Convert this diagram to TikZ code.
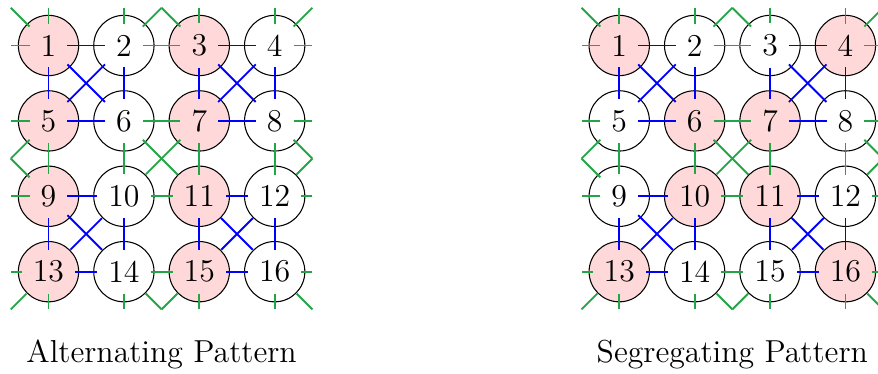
\documentclass[tikz,border=0pt]{standalone}
\usepackage{fontspec}
\setmainfont{Latin Modern Roman}
\definecolor{lnkgreen}{RGB}{34,165,70}
\definecolor{lnkblue}{RGB}{0,0,255}
\definecolor{sitepink}{RGB}{255,217,217}
\tikzset{
  site/.style={circle, draw=black, line width=0.4pt, minimum size=0.8cm, inner sep=0pt},
  lbl/.style={rectangle, inner sep=4pt, font=\fontsize{12}{14}\selectfont},
  intra/.style={draw=lnkblue, line width=0.7pt},
  inter/.style={draw=lnkgreen, line width=0.7pt},
  captxt/.style={anchor=base, font=\fontsize{12}{14}\selectfont}
}
\newcommand\drawlattice[4]{%
  \begin{scope}[xshift=#2cm]
    \foreach \k/\f in {#3}{
      \pgfmathtruncatemacro\rr{(\k-1)/4}
      \pgfmathtruncatemacro\cc{\k-1-4*\rr}
      \node[site, fill=\f] (#1c\rr\cc) at (\cc,-\rr) {};
      \node[lbl] (#1\rr\cc) at (\cc,-\rr) {\k};
    }
    \foreach \i in {0,...,3}{
      \coordinate (#1E\i) at (3.5,-\i);
      \coordinate (#1W\i) at (-0.5,-\i);
      \coordinate (#1N\i) at (\i,0.5);
      \coordinate (#1S\i) at (\i,-3.5);
    }
    \coordinate (#1X1) at (3.5,-1.5);
    \coordinate (#1X2) at (-0.5,-1.5);
    \coordinate (#1X3) at (1.5,0.5);
    \coordinate (#1X4) at (1.5,-3.5);
    \coordinate (#1Q1) at (-0.5,0.5);
    \coordinate (#1Q2) at (3.5,0.5);
    \coordinate (#1Q3) at (-0.5,-3.5);
    \coordinate (#1Q4) at (3.5,-3.5);
    % horizontal and vertical links
    \foreach \i in {0,...,3}{
      \draw[intra] (#1\i0) -- (#1\i1);
      \draw[inter] (#1\i1) -- (#1\i2);
      \draw[intra] (#1\i2) -- (#1\i3);
      \draw[inter] (#1\i3) -- (#1E\i);
      \draw[inter] (#1\i0) -- (#1W\i);
      \draw[intra] (#10\i) -- (#11\i);
      \draw[inter] (#11\i) -- (#12\i);
      \draw[intra] (#12\i) -- (#13\i);
      \draw[inter] (#10\i) -- (#1N\i);
      \draw[inter] (#13\i) -- (#1S\i);
    }
    % diagonals inside blue plaquettes
    \foreach \a/\b/\p/\q in {0/0/1/1, 0/2/1/3, 2/0/3/1, 2/2/3/3}{
      \draw[intra] (#1\a\b) -- (#1\p\q);
      \draw[intra] (#1\a\q) -- (#1\p\b);
    }
    % diagonals of green plaquettes
    \draw[inter] (#111) -- (#122);
    \draw[inter] (#112) -- (#121);
    \draw[inter] (#113) -- (#1X1);
    \draw[inter] (#123) -- (#1X1);
    \draw[inter] (#110) -- (#1X2);
    \draw[inter] (#120) -- (#1X2);
    \draw[inter] (#101) -- (#1X3);
    \draw[inter] (#102) -- (#1X3);
    \draw[inter] (#131) -- (#1X4);
    \draw[inter] (#132) -- (#1X4);
    \draw[inter] (#100) -- (#1Q1);
    \draw[inter] (#103) -- (#1Q2);
    \draw[inter] (#130) -- (#1Q3);
    \draw[inter] (#133) -- (#1Q4);
    \node[captxt] (#1cap) at (1.5,-4.2) {#4};
  \end{scope}
}
\begin{document}
\begin{tikzpicture}
  \useasboundingbox (-0.6432,0.6034) rectangle (11.002,-4.344);
  \drawlattice{L}{0}{1/sitepink,2/white,3/sitepink,4/white,5/sitepink,6/white,7/sitepink,8/white,9/sitepink,10/white,11/sitepink,12/white,13/sitepink,14/white,15/sitepink,16/white}{Alternating Pattern}
  \drawlattice{R}{7.57}{1/sitepink,2/white,3/white,4/sitepink,5/white,6/sitepink,7/sitepink,8/white,9/white,10/sitepink,11/sitepink,12/white,13/sitepink,14/white,15/white,16/sitepink}{Segregating Pattern}
\end{tikzpicture}
\end{document}
